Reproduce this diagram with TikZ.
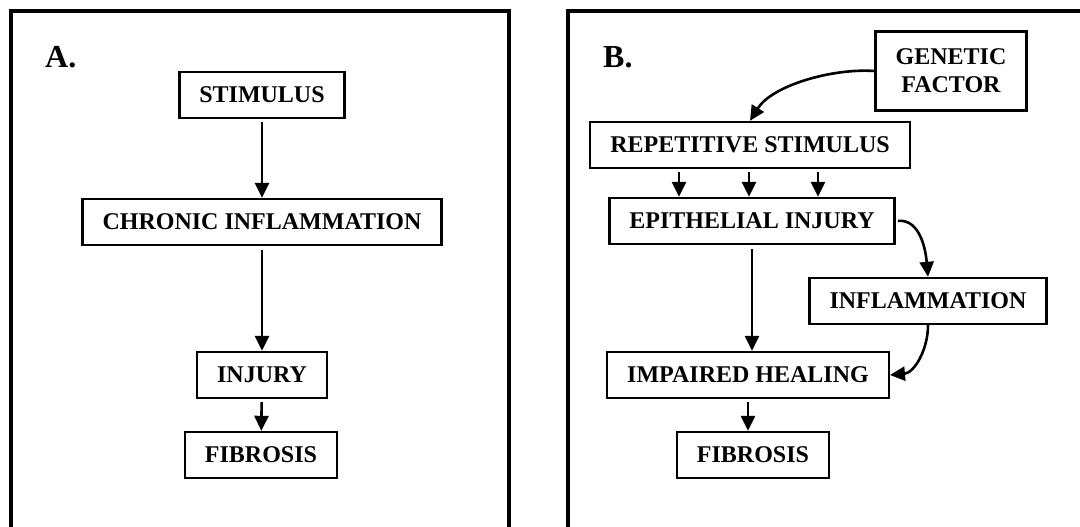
\documentclass[tikz,border=0pt]{standalone}
\usepackage{fontspec}
\setmainfont{Liberation Serif}
\usepackage{tikz}
\usetikzlibrary{arrows.meta}
\tikzset{
  box/.style={draw, line width=2.4pt, inner xsep=20pt, minimum height=46pt,
    font=\fontsize{24}{28}\selectfont\bfseries, align=center},
  arr/.style={line width=2.6pt, -{Triangle[length=15pt,width=14pt]}},
  panel/.style={draw, line width=4.5pt},
  tag/.style={font=\fontsize{32}{36}\selectfont\bfseries, anchor=base west, inner sep=0pt}
}
\begin{document}
\begin{tikzpicture}[x=1pt,y=-1pt]
\useasboundingbox (0,0) rectangle (1080,527);

% Panel frames
\draw[panel] (11,11) rectangle (509,545);
\draw[panel] (568,11) rectangle (1100,545);

% Panel A
\node[tag] (la) at (45,68) {A.};
\node[box] (stima) at (262,95) {STIMULUS};
\node[box] (chron) at (262,222) {CHRONIC INFLAMMATION};
\node[box] (inja) at (262,375) {INJURY};
\node[box] (fiba) at (261,455) {FIBROSIS};

\draw[arr, shorten <=3pt] (stima) -- (chron);
\draw[arr, shorten <=4pt] (chron) -- (inja);
\draw[arr, shorten <=3pt] (inja) -- (fiba);

% Panel B
\node[tag] (lb) at (603,68) {B.};
\node[box, minimum height=79pt] (gene) at (951,71) {GENETIC\\FACTOR};
\node[box] (rep) at (750,145) {REPETITIVE STIMULUS};
\node[box] (epi) at (752,221) {EPITHELIAL INJURY};
\node[box] (infl) at (928,301) {INFLAMMATION};
\node[box] (imp) at (748,375) {IMPAIRED HEALING};
\node[box] (fibb) at (753,455) {FIBROSIS};

\draw[arr] (gene.west) to[out=176,in=58,looseness=0.8] (rep.north);
\foreach \dx in {-71,-1,68}
  \draw[arr, shorten <=3pt] ([xshift=\dx pt]rep.south) -- ([xshift=\dx pt]rep.south |- epi.north);
\draw[arr, shorten <=4pt] (epi.south) -- (epi.south |- imp.north);
\draw[arr, shorten <=2pt] (epi.east) to[out=5,in=95] (infl.north);
\draw[arr] (infl.south) to[out=-90,in=5] (imp.east);
\draw[arr, shorten <=3pt] (imp.south) -- (imp.south |- fibb.north);
\end{tikzpicture}
\end{document}
